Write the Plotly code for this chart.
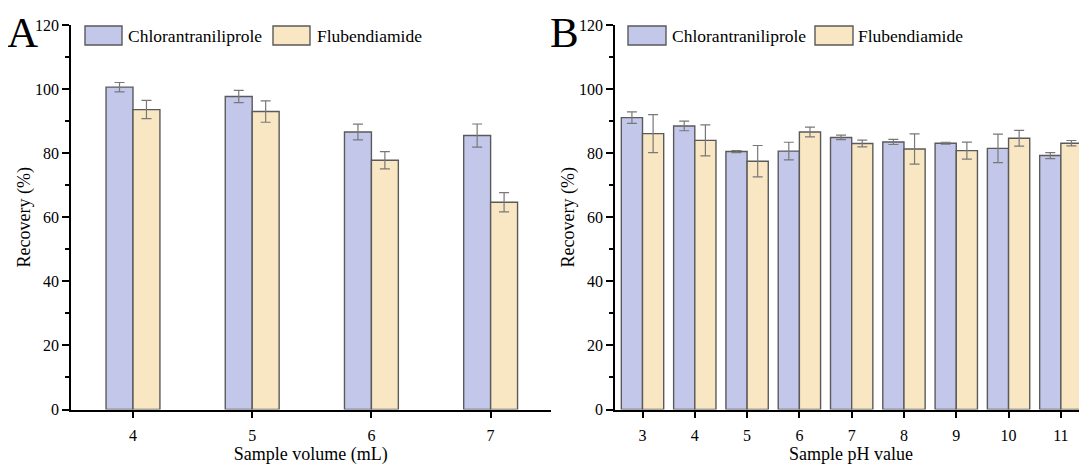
import plotly.graph_objects as go

# ---- data ----
vol_categories = [4, 5, 6, 7]
vol_chlor = [100.6, 97.7, 86.6, 85.5]
vol_chlor_err = [1.45, 1.9, 2.45, 3.6]
vol_flub = [93.6, 93.0, 77.8, 64.7]
vol_flub_err = [2.85, 3.35, 2.7, 3.0]

ph_categories = [3, 4, 5, 6, 7, 8, 9, 10, 11]
ph_chlor = [91.1, 88.5, 80.5, 80.65, 84.9, 83.5, 83.1, 81.5, 79.25]
ph_chlor_err = [1.8, 1.5, 0.3, 2.75, 0.7, 0.8, 0.3, 4.45, 0.95]
ph_flub = [86.1, 84.0, 77.5, 86.6, 83.0, 81.3, 80.8, 84.65, 83.1]
ph_flub_err = [5.9, 4.85, 4.9, 1.5, 1.05, 4.7, 2.65, 2.45, 0.85]

series_names = ["Chlorantraniliprole", "Flubendiamide"]
y_ticks = [0, 20, 40, 60, 80, 100, 120]

# ---- style ----
OFF = 8  # page body margin
W, H = 1087 - OFF, 466 - OFF
BLUE = "#C3C8EB"
YELLOW = "#F8E7C2"
EDGE = "#5a5a5a"
ERR = "#787878"
FONT = "Liberation Serif"


def px(x):
    return (x - OFF) / W


def py(y):
    return (H - (y - OFF)) / H


fig = go.Figure()


def add_pair(cats, v1, e1, v2, e2, width, xa, ya):
    for vals, errs, col, off in [(v1, e1, BLUE, -width), (v2, e2, YELLOW, 0.0)]:
        fig.add_trace(go.Bar(
            x=cats, y=vals, width=width, offset=off,
            marker=dict(color=col, line=dict(color=EDGE, width=1.4)),
            error_y=dict(type="data", array=errs, color=ERR, thickness=1.2, width=5),
            xaxis=xa, yaxis=ya, showlegend=False,
        ))


add_pair(vol_categories, vol_chlor, vol_chlor_err, vol_flub, vol_flub_err, 0.226, "x", "y")
add_pair(ph_categories, ph_chlor, ph_chlor_err, ph_flub, ph_flub_err, 0.405, "x2", "y2")

ydom = [py(409.5), py(25)]
axis_common = dict(
    showline=True, linecolor="black", linewidth=1.5, ticks="outside",
    ticklen=7, tickwidth=1.5, tickcolor="black", showgrid=False, zeroline=False,
    automargin=False,
    tickfont=dict(family=FONT, size=16, color="black"),
    title_font=dict(family=FONT, size=18, color="black"),
)
yaxis_common = dict(axis_common, range=[0, 120], tickvals=y_ticks, ticklen=7,
                    minor=dict(ticks="outside", ticklen=4, tickwidth=1.5, tickcolor="black", dtick=10, tick0=0))

fig.update_layout(
    width=W, height=H, margin=dict(l=0, r=0, t=0, b=0),
    plot_bgcolor="white", paper_bgcolor="white", barmode="overlay",
    xaxis=dict(axis_common, domain=[px(71), px(550.7)], range=[3.48, 7.504],
               tickvals=vol_categories, ticklabelstandoff=4,
               title=dict(text="Sample volume (mL)", standoff=0), anchor="y"),
    yaxis=dict(yaxis_common, domain=ydom, anchor="x",
               title=dict(text="Recovery (%)", standoff=0)),
    xaxis2=dict(axis_common, domain=[px(615), 1.0], range=[2.474, 11.5],
                tickvals=ph_categories, ticklabelstandoff=4,
                title=dict(text="Sample pH value", standoff=0), anchor="y2"),
    yaxis2=dict(yaxis_common, domain=ydom, anchor="x2",
                title=dict(text="Recovery (%)", standoff=0)),
)

shapes = []
annotations = []
# legends (pixel boxes)
legend_specs = [
    (85, 122, 126, 273, 310, 315),
    (628, 666, 670, 815, 853, 856),
]
for b0, b1, t1, y0, y1, t2 in legend_specs:
    for (x0, x1, tx, col, name) in [(b0, b1, t1, BLUE, series_names[0]), (y0, y1, t2, YELLOW, series_names[1])]:
        shapes.append(dict(type="rect", xref="paper", yref="paper",
                           x0=px(x0), x1=px(x1), y0=py(45), y1=py(26),
                           fillcolor=col, line=dict(color=EDGE, width=1.4)))
        annotations.append(dict(xref="paper", yref="paper", x=px(tx), y=py(36),
                                xanchor="left", yanchor="middle", text=name, showarrow=False,
                                font=dict(family=FONT, size=17.5, color="black")))

for letter, x in [("A", 39), ("B", 580)]:
    annotations.append(dict(xref="paper", yref="paper", x=px(x), y=py(33),
                            xanchor="right", yanchor="middle", text=letter, showarrow=False,
                            borderpad=0,
                            font=dict(family=FONT, size=43, color="black")))

fig.update_layout(shapes=shapes, annotations=annotations)
fig.write_html("out.html")
